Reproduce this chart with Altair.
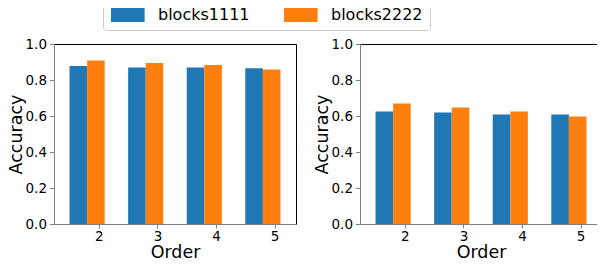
import altair as alt
import pandas as pd

orders = [2, 3, 4, 5]
series_names = ["blocks1111", "blocks2222"]
series_colors = ["#1f77b4", "#ff7f0e"]

left_blocks1111 = [0.878, 0.870, 0.870, 0.865]
left_blocks2222 = [0.909, 0.894, 0.883, 0.859]
right_blocks1111 = [0.625, 0.619, 0.608, 0.608]
right_blocks2222 = [0.669, 0.647, 0.625, 0.597]

y_ticks = [0.0, 0.2, 0.4, 0.6, 0.8, 1.0]


def make_df(b1, b2):
    rows = []
    for o, v in zip(orders, b1):
        rows.append({"Order": o, "Series": series_names[0], "Accuracy": v})
    for o, v in zip(orders, b2):
        rows.append({"Order": o, "Series": series_names[1], "Accuracy": v})
    return pd.DataFrame(rows)


FONT = "DejaVu Sans"
BAR_W = 0.3


def panel(df):
    return (
        alt.Chart(df)
        .mark_bar(stroke=None, orient="vertical")
        .transform_calculate(
            x0=f"datum.Series == '{series_names[0]}' ? datum.Order - {BAR_W} : datum.Order"
        )
        .transform_calculate(x1=f"datum.x0 + {BAR_W}")
        .encode(
            x=alt.X(
                "x0:Q",
                scale=alt.Scale(domain=[1.52, 5.48], nice=False, zero=False),
                axis=alt.Axis(
                    values=[o + 0.2 for o in orders],
                    labelExpr="format(datum.value - 0.2, 'd')",
                    title="Order",
                    tickSize=4,
                    labelPadding=1,
                    titlePadding=1,
                ),
            ),
            x2="x1:Q",
            y=alt.Y(
                "Accuracy:Q",
                scale=alt.Scale(domain=[0, 1], nice=False),
                axis=alt.Axis(
                    values=y_ticks,
                    format=".1f",
                    title="Accuracy",
                    tickSize=4.5,
                    labelPadding=3,
                    titlePadding=0,
                ),
            ),
            y2=alt.datum(0),
            color=alt.Color(
                "Series:N",
                scale=alt.Scale(domain=series_names, range=series_colors),
                legend=alt.Legend(
                    title=None,
                    orient="none",
                    direction="horizontal",
                    legendX=49,
                    legendY=-44,
                    symbolType="M-1,-1H3.8V1H-1Z",
                    symbolSize=196,
                    symbolStrokeWidth=0,
                    symbolOpacity=1,
                    labelFontSize=16,
                    labelFont=FONT,
                    labelColor="black",
                    labelOffset=32,
                    columnPadding=33,
                    padding=7,
                    strokeColor="#cccccc",
                    fillColor="white",
                    cornerRadius=3,
                ),
            ),
        )
        .properties(width=242, height=180)
    )


left = panel(make_df(left_blocks1111, left_blocks2222))
right = panel(make_df(right_blocks1111, right_blocks2222))

chart = (
    alt.hconcat(left, right, spacing=15)
    .properties(
        autosize=alt.AutoSizeParams(type="none"),
        padding={"left": 46, "top": 36, "right": 543, "bottom": 214},
    )
    .configure_view(stroke="black", strokeWidth=1)
    .configure_axis(
        domainColor="#808080",
        tickColor="#808080",
        labelColor="black",
        titleColor="black",
        labelFont=FONT,
        titleFont=FONT,
        labelFontSize=13.5,
        titleFontSize=17.5,
        titleFontWeight="normal",
        grid=False,
        zindex=1,
    )
)

chart.save("out.html", embed_options={"renderer": "svg", "actions": False})
